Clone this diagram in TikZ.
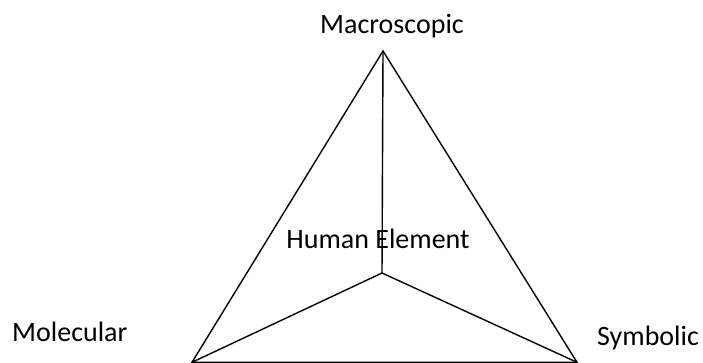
\documentclass[tikz,border=0pt]{standalone}
\usepackage{fontspec}
\setmainfont{Carlito}
\usetikzlibrary{positioning}

\begin{document}
\begin{tikzpicture}[
  x=1pt,y=-1pt,
  lbl/.style={inner sep=0pt,font=\fontsize{28}{32}\selectfont},
  edge/.style={line width=1.4pt,black,line join=miter}
]
\useasboundingbox (0,0) rectangle (703,362);
% corners of the tetrahedron
\coordinate (macro) at (383,51);
\coordinate (mol) at (192,362.3);
\coordinate (sym) at (577,362.3);
\coordinate (human) at (382,273);

% labels
\node[lbl,anchor=base] (tmacro) at (392,33) {Macroscopic};
\node[lbl,anchor=base west] (tmol) at (12,341) {Molecular};
\node[lbl,anchor=base west] (tsym) at (597,345) {Symbolic};
\node[lbl,anchor=base] (thuman) at (378,248) {Human Element};

% outer triangle
\draw[edge] (macro) -- (mol) -- (sym) -- cycle;
% inner edges
\draw[edge] (macro) -- (human);
\draw[edge] (mol) -- (human);
\draw[edge] (sym) -- (human);
\end{tikzpicture}
\end{document}
